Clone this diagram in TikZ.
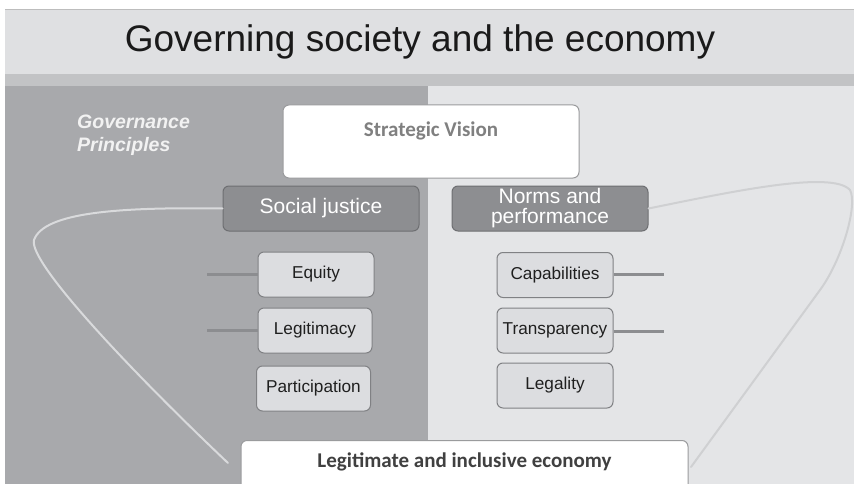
\documentclass[tikz,border=0pt]{standalone}
\usepackage{fontspec}
\setmainfont{Liberation Sans}
\newfontfamily\calfont{Carlito}
\definecolor{hdr}{HTML}{DFE0E2}
\definecolor{hdrline}{HTML}{BDBDBD}
\definecolor{band}{HTML}{C2C3C5}
\definecolor{leftbg}{HTML}{A8A9AC}
\definecolor{rightbg}{HTML}{E4E5E7}
\definecolor{darkbox}{HTML}{8D8E91}
\definecolor{darkedge}{HTML}{6E6F72}
\definecolor{smallbox}{HTML}{DCDDE0}
\definecolor{smalledge}{HTML}{808184}
\definecolor{conn}{HTML}{8C8D90}
\definecolor{curveL}{HTML}{D9DADC}
\definecolor{curveR}{HTML}{CFD0D2}
\definecolor{whiteedge}{HTML}{9A9B9D}
\definecolor{titlecol}{HTML}{1A1A1A}
\tikzset{
  whitebox/.style={draw=whiteedge, line width=1pt, fill=white, rounded corners=6pt, inner sep=0pt},
  groupbox/.style={draw=darkedge, line width=1pt, fill=darkbox, rounded corners=6pt, inner sep=0pt,
    minimum width=196pt, minimum height=45pt, text=white, align=center,
    font=\fontsize{21}{20}\selectfont},
  itembox/.style={draw=smalledge, line width=1pt, fill=smallbox, rounded corners=6pt, inner sep=0pt,
    minimum width=116pt, minimum height=45pt, text=black!88,
    font=\fontsize{17.2}{19}\selectfont},
  connector/.style={draw=conn, line width=3pt},
  loopline/.style={line width=2pt, line cap=round},
}
\begin{document}
\begin{tikzpicture}[x=1pt,y=-1pt]
\useasboundingbox (0,0) rectangle (854,484);
\clip (0,0) rectangle (854,484);
% backgrounds
\fill[white] (0,0) rectangle (854,484);
\fill[hdr] (5,9) rectangle (854,74);
\draw[hdrline, line width=1pt] (5,9.5) -- (854,9.5);
\fill[band] (5,74) rectangle (854,86);
\fill[leftbg] (5,86) rectangle (428,484);
\fill[rightbg] (428,86) rectangle (854,484);
% title
\node[text=titlecol, font=\fontsize{37}{40}\selectfont, inner sep=0pt] (title) at (420,42) {Governing society and the economy};
% governance principles
\node[anchor=west, align=left, text=white!95!black, font=\fontsize{19.5}{23.5}\selectfont\bfseries\itshape, inner sep=0pt] (gp) at (77,135) {Governance\\Principles};
% strategic vision
\node[whitebox, minimum width=296pt, minimum height=73pt,
  label={[anchor=center, yshift=-26pt, text=black!50, font=\calfont\bfseries\fontsize{21}{24}\selectfont]north:Strategic Vision}] (sv) at (431,141.5) {};
% group boxes
\node[groupbox] (sj) at (321,208.5) {Social justice};
\node[groupbox] (np) at (550,208.5) {Norms and\\performance};
% item boxes left
\node[itembox] (eq) at (316,274.5) {Equity};
\node[itembox, minimum width=114pt] (lg) at (315,330.5) {Legitimacy};
\node[itembox, minimum width=114pt] (pa) at (313.5,388.5) {Participation};
% item boxes right
\node[itembox] (ca) at (555,275) {Capabilities};
\node[itembox] (tr) at (555,330.5) {Transparency};
\node[itembox] (le) at (555,385.5) {Legality};
% connector stubs
\coordinate (eqL) at (207,274);
\coordinate (lgL) at (207,330);
\coordinate (caR) at (664,274);
\coordinate (trR) at (664,331);
\draw[connector] (eq.west |- eqL) -- (eqL);
\draw[connector] (lg.west |- lgL) -- (lgL);
\draw[connector] (ca.east |- caR) -- (caR);
\draw[connector] (tr.east |- trR) -- (trR);
% bottom box
\node[whitebox, minimum width=447pt, minimum height=70pt, anchor=north,
  label={[anchor=center, yshift=-22pt, text=black!75, font=\calfont\bfseries\fontsize{21}{24}\selectfont]north:Legitimate and inclusive economy}] (ec) at (464.5,440) {};
% loops
\coordinate (lEnd) at (228,463);
\coordinate (rEnd) at (691,467);
\draw[loopline, curveL] (sj.west) .. controls (120,207) and (44,212) .. (34,240)
   .. controls (28,262) and (130,370) .. (lEnd);
\draw[loopline, curveR] (np.east) .. controls (730,192) and (832,170) .. (850,190)
   .. controls (858,205) and (842,260) .. (820,290) -- (rEnd);
\end{tikzpicture}
\end{document}
